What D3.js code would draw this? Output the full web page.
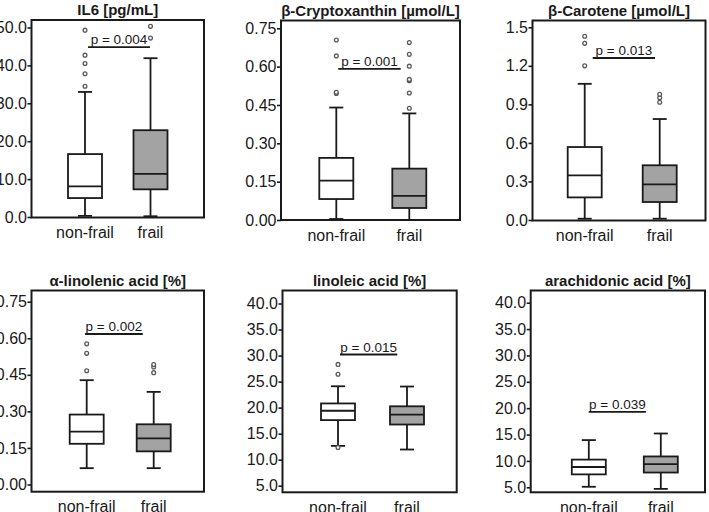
<!DOCTYPE html>
<html><head><meta charset="utf-8">
<script src="https://cdn.jsdelivr.net/npm/d3@7"></script>
<style>body{margin:0;background:#fff}svg{display:block}text{font-family:"Liberation Sans",Arial,sans-serif;fill:#1a1a1a}</style>
</head><body><svg id="c" width="709" height="512"></svg>
<script>
const groups = ["non-frail", "frail"];
const titles = ["IL6 [pg/mL]", "β-Cryptoxanthin [µmol/L]", "β-Carotene [µmol/L]",
  "α-linolenic acid [%]", "linoleic acid [%]", "arachidonic acid [%]"];
const yTicks = [
  [0, 10, 20, 30, 40, 50],
  [0, 0.15, 0.30, 0.45, 0.60, 0.75],
  [0, 0.3, 0.6, 0.9, 1.2, 1.5],
  [0, 0.15, 0.30, 0.45, 0.60, 0.75],
  [5, 10, 15, 20, 25, 30, 35, 40],
  [5, 10, 15, 20, 25, 30, 35, 40]
];
const tickFormats = [".1f", ".2f", ".1f", ".2f", ".1f", ".1f"];
// [lower whisker, Q1, median, Q3, upper whisker]
const nonFrailStats = [
  [0.3, 5.0, 8.1, 16.6, 33.0],
  [0.004, 0.082, 0.154, 0.243, 0.44],
  [0.01, 0.176, 0.348, 0.568, 1.06],
  [0.067, 0.167, 0.217, 0.287, 0.428],
  [12.65, 17.6, 19.4, 20.8, 24.1],
  [5.1, 7.45, 8.85, 10.25, 13.95]
];
const frailStats = [
  [0.2, 7.3, 11.4, 22.9, 41.9],
  [0.0, 0.047, 0.094, 0.201, 0.417],
  [0.01, 0.14, 0.278, 0.426, 0.786],
  [0.067, 0.136, 0.189, 0.247, 0.38],
  [11.95, 16.75, 18.65, 20.25, 24.05],
  [4.7, 7.8, 9.4, 10.85, 15.2]
];
const nonFrailOutliers = [
  [34.5, 37.8, 40.5, 42.7, 49.3],
  [0.495, 0.5, 0.642, 0.704],
  [1.2, 1.375, 1.43],
  [0.467, 0.538, 0.577],
  [12.35, 26.4, 28.3],
  []
];
const frailOutliers = [
  [47.2, 50.3],
  [0.437, 0.497, 0.545, 0.55, 0.602, 0.648, 0.694],
  [0.916, 0.952, 0.978],
  [0.459, 0.482, 0.492],
  [],
  []
];
const pLabels = ["p = 0.004", "p = 0.001", "p = 0.013", "p = 0.002", "p = 0.015", "p = 0.039"];
const pLevels = [44.8, 0.591, 1.261, 0.6175, 30.2, 19.3];
// span of p line in group-index units (0 = non-frail, 1 = frail)
const pSpans = [[0.046, 0.992], [0.027, 0.882], [0.107, 0.937], [-0.025, 0.836], [0.029, 0.859], [0, 0.794]];

// layout (pixels)
const layout = [
  {x0: 31.5, x1: 204, y0: 20, y1: 217.5, yr: [217, 27.5], cx: [85, 150.5]},
  {x0: 281, x1: 460, y0: 20.5, y1: 220, yr: [220, 28.3], cx: [336.3, 409.3]},
  {x0: 532.5, x1: 705.5, y0: 20.5, y1: 220.5, yr: [220, 27.3], cx: [584.7, 659.7]},
  {x0: 31.5, x1: 204, y0: 290.5, y1: 491.7, yr: [484.5, 301.7], cx: [86.7, 153.7]},
  {x0: 282.5, x1: 456.7, y0: 290.5, y1: 492.3, yr: [485.7, 303.5], cx: [338, 407]},
  {x0: 530.7, x1: 705, y0: 290.5, y1: 492.3, yr: [487.3, 302.7], cx: [588.8, 660.8]}
];

const svg = d3.select("#c");
const ink = "#1a1a1a";
const fills = ["#ffffff", "#a3a3a3"];
const boxW = 34, capW = 14;

layout.forEach((L, i) => {
  const g = svg.append("g");
  const t = yTicks[i];
  const y = d3.scaleLinear().domain([t[0], t[t.length - 1]]).range(L.yr);
  const x = d3.scalePoint().domain(groups).range(L.cx);
  const xi = d3.scaleLinear().domain([0, 1]).range(L.cx);

  // y axis
  const ax = d3.axisLeft(y).tickValues(t).tickFormat(d3.format(tickFormats[i])).tickSize(4).tickPadding(0.5);
  const axg = g.append("g").attr("transform", `translate(${L.x0},0)`).call(ax);
  axg.select(".domain").remove();
  axg.selectAll(".tick line").attr("stroke", ink).attr("stroke-width", 1.6);
  axg.selectAll(".tick text").attr("font-size", 16).attr("fill", ink)
    .style("font-family", '"Liberation Sans", Arial, sans-serif');

  // frame
  g.append("rect").attr("x", L.x0).attr("y", L.y0).attr("width", L.x1 - L.x0).attr("height", L.y1 - L.y0)
    .attr("fill", "none").attr("stroke", ink).attr("stroke-width", 2);

  // title
  g.append("text").attr("x", (L.x0 + L.x1) / 2).attr("y", L.y0 - 5).attr("text-anchor", "middle")
    .attr("font-size", 15).attr("font-weight", "bold").text(titles[i]);

  // x labels
  g.selectAll(".xl").data(groups).enter().append("text")
    .attr("x", d => x(d)).attr("y", L.y1 + 20.5).attr("text-anchor", "middle")
    .attr("font-size", 16).text(d => d);

  const stats = [nonFrailStats[i], frailStats[i]];
  const outs = [nonFrailOutliers[i], frailOutliers[i]];
  groups.forEach((grp, k) => {
    const s = stats[k], c = x(grp);
    const bg = g.append("g");
    // whiskers
    bg.append("line").attr("x1", c).attr("x2", c).attr("y1", y(s[0])).attr("y2", y(s[1]))
      .attr("stroke", ink).attr("stroke-width", 1.8);
    bg.append("line").attr("x1", c).attr("x2", c).attr("y1", y(s[3])).attr("y2", y(s[4]))
      .attr("stroke", ink).attr("stroke-width", 1.8);
    [s[0], s[4]].forEach(v => bg.append("line").attr("x1", c - capW / 2).attr("x2", c + capW / 2)
      .attr("y1", y(v)).attr("y2", y(v)).attr("stroke", ink).attr("stroke-width", 1.8));
    // box
    bg.append("rect").attr("x", c - boxW / 2).attr("width", boxW).attr("y", y(s[3])).attr("height", y(s[1]) - y(s[3]))
      .attr("fill", fills[k]).attr("stroke", ink).attr("stroke-width", 1.8);
    bg.append("line").attr("x1", c - boxW / 2).attr("x2", c + boxW / 2).attr("y1", y(s[2])).attr("y2", y(s[2]))
      .attr("stroke", ink).attr("stroke-width", 1.8);
    // outliers
    bg.selectAll("circle").data(outs[k]).enter().append("circle")
      .attr("cx", c).attr("cy", d => y(d)).attr("r", 1.9)
      .attr("fill", "#fff").attr("stroke", "#5a5a5a").attr("stroke-width", 1.3);
  });

  // p annotation
  const py = y(pLevels[i]);
  const [a, b] = pSpans[i];
  g.append("line").attr("x1", xi(a)).attr("x2", xi(b)).attr("y1", py).attr("y2", py)
    .attr("stroke", ink).attr("stroke-width", 1.8);
  g.append("text").attr("x", (xi(a) + xi(b)) / 2).attr("y", py - 3).attr("text-anchor", "middle")
    .attr("font-size", 13.5).text(pLabels[i]);
});
</script></body></html>
